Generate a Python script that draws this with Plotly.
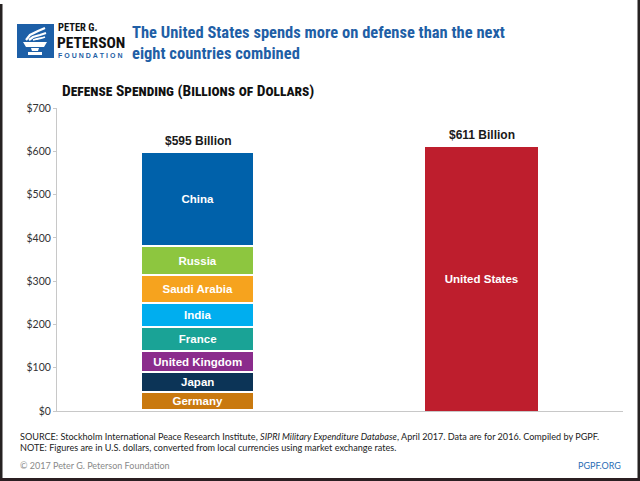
import plotly.graph_objects as go

# Data: SIPRI 2016 defense spending, billions of dollars
countries = ['Germany', 'Japan', 'United Kingdom', 'France', 'India',
             'Saudi Arabia', 'Russia', 'China']
spending = [41.1, 46.1, 48.3, 55.7, 55.9, 63.7, 69.2, 215.2]
colors = ['#c9790f', '#0c3457', '#8b2c8c', '#1aa396', '#00aeef',
          '#f6a31e', '#8dc63f', '#0061aa']
us_name = 'United States'
us_spending = 611
us_color = '#be1e2d'
y_ticks = [0, 100, 200, 300, 400, 500, 600, 700]
y_ticktext = ['$%d' % v for v in y_ticks]

# page geometry (pixels) used to place the decorations
W, H = 640, 481
L, R, T, B = 57, 17, 108, 70


def px(x):
    return (x - L) / (W - L - R)


def py(y):
    return (H - B - y) / (H - T - B)


bar_font = dict(family='Liberation Sans, Arial, sans-serif', size=11.5,
                color='white', weight='bold')

fig = go.Figure()

for name, val, col in zip(countries, spending, colors):
    fig.add_trace(go.Bar(
        x=[0], y=[val], name=name, width=0.4,
        marker=dict(color=col, line=dict(color='white', width=1.6)),
        text=[name], textposition='inside', insidetextanchor='middle',
        textangle=0, constraintext='none', textfont=bar_font,
        hoverinfo='skip'))

fig.add_trace(go.Bar(
    x=[1], y=[us_spending], name=us_name, width=0.4,
    marker=dict(color=us_color, line=dict(width=0)),
    text=[us_name], textposition='inside', insidetextanchor='middle',
    textangle=0, constraintext='none', textfont=bar_font,
    hoverinfo='skip'))

total_others = sum(spending)
bold_font = dict(family='Liberation Sans, Arial, sans-serif', size=12,
                 color='#1a1a1a', weight='bold')
annotations = [
    dict(x=0, y=total_others, xref='x', yref='y', yanchor='bottom',
         text='$%d Billion' % round(total_others), showarrow=False,
         font=bold_font, yshift=3),
    dict(x=1, y=us_spending, xref='x', yref='y', yanchor='bottom',
         text='$%d Billion' % us_spending, showarrow=False,
         font=bold_font, yshift=3),
]

# header
cond = 'Liberation Sans Narrow, Roboto Condensed, DejaVu Sans Condensed, sans-serif'
annotations += [
    dict(x=px(130), y=py(21), xref='paper', yref='paper', xanchor='left',
         yanchor='top', align='left', showarrow=False,
         text='The United States spends more on defense than the next<br>'
              'eight countries combined',
         font=dict(family=cond, size=16.5, color='#1f5fa6', weight='bold')),
    dict(x=px(57), y=py(28), xref='paper', yref='paper', xanchor='left',
         yanchor='middle', showarrow=False, text='PETER G.', borderpad=0,
         font=dict(family=cond, size=10.5, color='#111', weight='bold')),
    dict(x=px(56), y=py(42.5), xref='paper', yref='paper', xanchor='left',
         yanchor='middle', showarrow=False, text='PETERSON', borderpad=0,
         font=dict(family=cond, size=15.5, color='#111', weight='bold')),
    dict(x=px(57), y=py(55.5), xref='paper', yref='paper', xanchor='left',
         yanchor='middle', showarrow=False, borderpad=0,
         text='\u2009\u200a'.join('FOUNDATION'),
         font=dict(family='Liberation Sans, Arial, sans-serif', size=7,
                   color='#1f5fa6', weight='bold')),
    dict(x=px(60), y=py(91), xref='paper', yref='paper', xanchor='left',
         yanchor='middle', showarrow=False,
         text='Defense Spending (Billions of Dollars)',
         font=dict(family=cond, size=15.5, color='#111', weight='bold',
                   variant='small-caps')),
]

# footer
foot = 'Lato, Noto Sans, sans-serif'
annotations += [
    dict(x=px(18), y=py(436), xref='paper', yref='paper', xanchor='left',
         yanchor='middle', showarrow=False,
         text='SOURCE: Stockholm International Peace Research Institute, '
              '<i>SIPRI Military Expenditure Database</i>, April 2017. '
              'Data are for 2016. Compiled by PGPF.',
         font=dict(family=foot, size=9.1, color='#222')),
    dict(x=px(18), y=py(447), xref='paper', yref='paper', xanchor='left',
         yanchor='middle', showarrow=False,
         text='NOTE: Figures are in U.S. dollars, converted from local '
              'currencies using market exchange rates.',
         font=dict(family=foot, size=9.1, color='#222')),
    dict(x=px(18), y=py(465), xref='paper', yref='paper', xanchor='left',
         yanchor='middle', showarrow=False,
         text='\u00a9 2017 Peter G. Peterson Foundation',
         font=dict(family=foot, size=9, color='#8a8a8a')),
    dict(x=px(623), y=py(465), xref='paper', yref='paper', xanchor='right',
         yanchor='middle', showarrow=False, text='PGPF.ORG',
         font=dict(family=foot, size=9, color='#2a6db5')),
]


def path(points, close=True):
    s = 'M ' + ' L '.join('%f,%f' % (px(a), py(b)) for a, b in points)
    return s + (' Z' if close else '')


shapes = [
    # logo square
    dict(type='rect', xref='paper', yref='paper', x0=px(17), x1=px(54),
         y0=py(58), y1=py(24), fillcolor='#1d5fa7', line=dict(width=0)),
    # torch bowl, stem and base
    dict(type='path', xref='paper', yref='paper',
         path=path([(23, 42), (47, 42), (44, 47), (26, 47)]),
         fillcolor='white', line=dict(width=0)),
    dict(type='path', xref='paper', yref='paper',
         path=path([(31, 48), (39, 48), (38, 51), (32, 51)]),
         fillcolor='white', line=dict(width=0)),
    dict(type='rect', xref='paper', yref='paper', x0=px(28), x1=px(42),
         y0=py(55), y1=py(52), fillcolor='white', line=dict(width=0)),
    # flame strokes
    dict(type='path', xref='paper', yref='paper',
         path=path([(26, 40), (30, 35), (38, 31), (45, 28)], close=False),
         line=dict(color='white', width=2.2)),
    dict(type='path', xref='paper', yref='paper',
         path=path([(29, 40), (33, 37), (40, 35), (46, 33)], close=False),
         line=dict(color='white', width=2.2)),
    dict(type='path', xref='paper', yref='paper',
         path=path([(33, 40), (37, 39), (42, 38), (45, 37)], close=False),
         line=dict(color='white', width=1.8)),
    # screenshot frame
    dict(type='line', xref='paper', yref='paper', x0=px(1), x1=px(1),
         y0=py(4), y1=py(481), line=dict(color='#262222', width=3)),
    dict(type='line', xref='paper', yref='paper', x0=px(639), x1=px(639),
         y0=py(0), y1=py(481), line=dict(color='#262222', width=3)),
    dict(type='line', xref='paper', yref='paper', x0=px(0), x1=px(640),
         y0=py(479.5), y1=py(479.5), line=dict(color='#2b1f22', width=3)),
]

fig.update_layout(
    width=W, height=H,
    margin=dict(l=L, r=R, t=T, b=B, pad=0),
    barmode='stack', bargap=0,
    showlegend=False,
    paper_bgcolor='white', plot_bgcolor='white',
    xaxis=dict(range=[-0.5, 1.5], showticklabels=False, showgrid=False,
               zeroline=False, showline=True, linecolor='#c8c8c8',
               linewidth=1, fixedrange=True),
    yaxis=dict(range=[0, 700], tickvals=y_ticks, ticktext=y_ticktext,
               showgrid=False, zeroline=False, showline=True,
               linecolor='#c8c8c8', linewidth=1, ticks='outside',
               ticklen=3, tickcolor='#c8c8c8',
               tickfont=dict(family='Lato, Noto Sans, sans-serif', size=10.5,
                             color='#333'),
               fixedrange=True),
    annotations=annotations,
    shapes=shapes,
)

# drop the page's default body margin so the figure sits at the corner
fig.write_html('out.html', config={'displayModeBar': False},
               post_script="document.body.style.margin='0';")
